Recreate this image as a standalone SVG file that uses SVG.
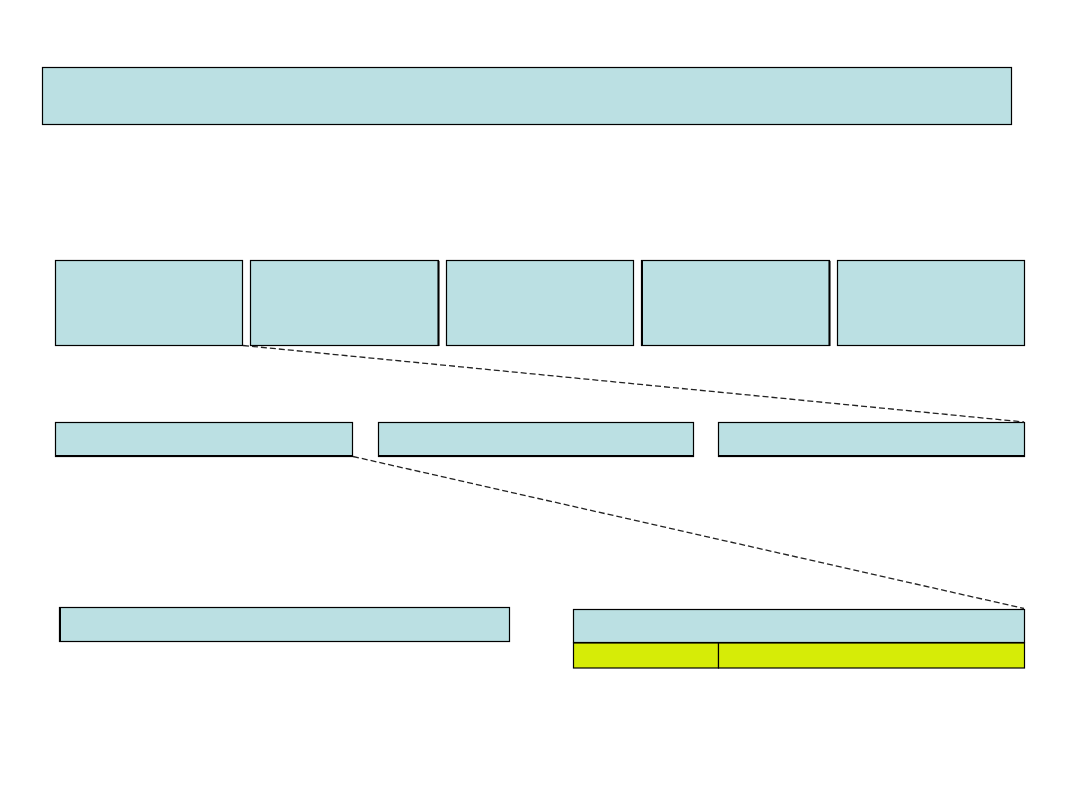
<svg xmlns="http://www.w3.org/2000/svg" width="1080" height="810" viewBox="0 0 1080 810">
<style>
.b{fill:#BBE0E3;stroke:#000;stroke-width:1.2}
.y{fill:#D6EC07;stroke:#000;stroke-width:1.2}
.d{fill:none;stroke:#222;stroke-width:1.3;stroke-dasharray:6,3}
</style>
<rect width="1080" height="810" fill="#fff"/>
<g id="top"><rect class="b" x="42.5" y="67.5" width="969" height="57"/></g>
<g id="r2a"><rect class="b" x="55.5" y="260.5" width="187" height="85"/></g>
<g id="r2b"><rect class="b" x="250.5" y="260.5" width="188" height="85"/><line x1="438.5" y1="261" x2="438.5" y2="346" stroke="#000" stroke-width="2"/></g>
<g id="r2c"><rect class="b" x="446.5" y="260.5" width="187" height="85"/></g>
<g id="r2d"><rect class="b" x="641.5" y="260.5" width="188" height="85"/><line x1="642" y1="261" x2="642" y2="346" stroke="#000" stroke-width="2"/><line x1="829.5" y1="261" x2="829.5" y2="346" stroke="#000" stroke-width="2"/></g>
<g id="r2e"><rect class="b" x="837.5" y="260.5" width="187" height="85"/></g>
<g id="r3a"><rect class="b" x="55.5" y="422.5" width="297" height="34"/><line x1="55" y1="456" x2="353" y2="456" stroke="#000" stroke-width="2"/></g>
<g id="r3b"><rect class="b" x="378.5" y="422.5" width="315" height="34"/><line x1="378" y1="456" x2="694" y2="456" stroke="#000" stroke-width="2"/></g>
<g id="r3c"><rect class="b" x="718.5" y="422.5" width="306" height="34"/><line x1="718" y1="456" x2="1025" y2="456" stroke="#000" stroke-width="2"/></g>
<g id="r4a"><rect class="b" x="59.5" y="607.5" width="450" height="34"/><line x1="60" y1="607" x2="60" y2="642" stroke="#000" stroke-width="2"/></g>
<g id="r4b"><rect class="b" x="573.5" y="609.5" width="451" height="33"/></g>
<g id="r4c"><rect class="y" x="573.5" y="643" width="145" height="25"/><rect class="y" x="718.5" y="643" width="306" height="25"/></g>
<g id="connectors">
<line class="d" x1="243" y1="345.5" x2="1024" y2="422"/>
<line class="d" x1="353" y1="456.5" x2="1024" y2="608.5"/>
</g>
</svg>
